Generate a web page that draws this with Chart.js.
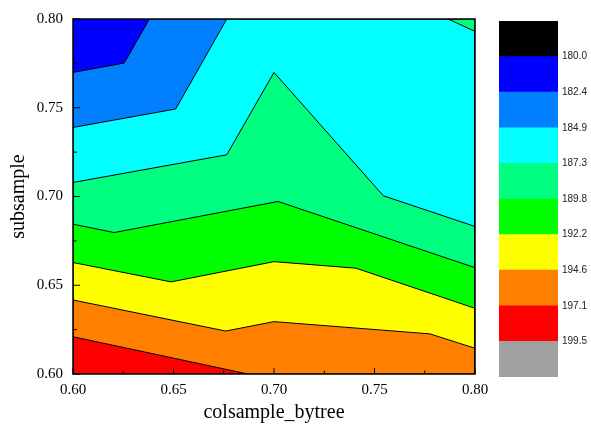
<!DOCTYPE html>
<html>
<head>
<meta charset="utf-8">
<script src="https://cdn.jsdelivr.net/npm/chart.js@4.4.0/dist/chart.umd.min.js"></script>
<style>
  html, body { margin: 0; padding: 0; background: #fff; }
  #wrap { position: relative; width: 591px; height: 430px; }
  #contorno { position: absolute; left: 0; top: 0; }
  #barra { position: absolute; left: 490px; top: 0; }
</style>
</head>
<body>
<div id="wrap">
  <canvas id="contorno" width="591" height="430"></canvas>
  <canvas id="barra" width="101" height="430"></canvas>
</div>
<script>
// limites dos eixos
const xMin = 0.60, xMax = 0.80, yMin = 0.60, yMax = 0.80;
const ticksX = [0.60, 0.65, 0.70, 0.75, 0.80];
const ticksMenoresX = [0.625, 0.675, 0.725, 0.775];
const ticksY = [0.60, 0.65, 0.70, 0.75, 0.80];
const ticksMenoresY = [0.625, 0.675, 0.725, 0.775];

// niveis da barra de cores (de cima para baixo)
const niveis = ['180.0', '182.4', '184.9', '187.3', '189.8', '192.2', '194.6', '197.1', '199.5'];

// linhas de contorno: [colsample_bytree, subsample]
const linha1824 = [[0.600, 0.7699], [0.6255, 0.7752], [0.638, 0.800]];
const linha1849 = [[0.600, 0.7389], [0.6511, 0.7493], [0.6765, 0.800]];
const linha1873 = [[0.600, 0.7079], [0.6765, 0.7235], [0.700, 0.7699], [0.7544, 0.7004], [0.800, 0.6831]];
const canto1873 = [[0.7867, 0.800], [0.800, 0.793]];
const linha1898 = [[0.600, 0.6844], [0.6205, 0.6797], [0.702, 0.6972], [0.800, 0.6599]];
const linha1922 = [[0.600, 0.6628], [0.6488, 0.6519], [0.700, 0.6633], [0.7408, 0.6596], [0.800, 0.6370]];
const linha1946 = [[0.600, 0.6417], [0.676, 0.6242], [0.700, 0.6295], [0.7776, 0.6226], [0.800, 0.6145]];
const linha1971 = [[0.600, 0.6210], [0.687, 0.600]];

// cores das faixas, de cima (menor valor) para baixo
const cores = ['#000000', '#0000ff', '#0080ff', '#00ffff', '#00ff80', '#00ff00', '#ffff00', '#ff8000', '#ff0000', '#a0a0a0'];

function fechar(pontos) {
    const p = pontos.map(([x, y]) => ({ x: x, y: y }));
    p.push({ x: pontos[0][0], y: pontos[0][1] });
    return p;
}

// regioes pintadas em ordem (cada uma cobre a anterior)
const regioes = [
    { pontos: [[xMin, yMin], [xMax, yMin], [xMax, yMax], [xMin, yMax]], cor: cores[1], borda: 0 },
    { pontos: [...linha1824, [xMax, yMax], [xMax, yMin], [xMin, yMin]], cor: cores[2], borda: 1 },
    { pontos: [...linha1849, [xMax, yMax], [xMax, yMin], [xMin, yMin]], cor: cores[3], borda: 1 },
    { pontos: [...linha1873, [xMax, yMin], [xMin, yMin]], cor: cores[4], borda: 1 },
    { pontos: [...canto1873, [xMax, yMax]], cor: cores[4], borda: 1 },
    { pontos: [...linha1898, [xMax, yMin], [xMin, yMin]], cor: cores[5], borda: 1 },
    { pontos: [...linha1922, [xMax, yMin], [xMin, yMin]], cor: cores[6], borda: 1 },
    { pontos: [...linha1946, [xMax, yMin], [xMin, yMin]], cor: cores[7], borda: 1 },
    { pontos: [...linha1971, [xMin, yMin]], cor: cores[8], borda: 1 }
];

const moldura = {
    id: 'moldura',
    afterDatasetsDraw(chart) {
        const { ctx, chartArea: a, scales } = chart;
        ctx.save();
        ctx.strokeStyle = '#000';
        ctx.lineWidth = 1;
        ctx.beginPath();
        ticksX.forEach(v => { const px = scales.x.getPixelForValue(v); ctx.moveTo(px, a.bottom); ctx.lineTo(px, a.bottom - 6); });
        ticksMenoresX.forEach(v => { const px = scales.x.getPixelForValue(v); ctx.moveTo(px, a.bottom); ctx.lineTo(px, a.bottom - 3.5); });
        ticksY.forEach(v => { const py = scales.y.getPixelForValue(v); ctx.moveTo(a.left, py); ctx.lineTo(a.left + 7, py); });
        ticksMenoresY.forEach(v => { const py = scales.y.getPixelForValue(v); ctx.moveTo(a.left, py); ctx.lineTo(a.left + 4, py); });
        ctx.stroke();
        ctx.lineWidth = 1.5;
        ctx.strokeRect(a.left, a.top, a.right - a.left, a.bottom - a.top);
        ctx.restore();
    }
};

const fonteSerif = 'Liberation Serif, Times New Roman, serif';
const semGrade = { display: false, drawTicks: false, tickLength: 0 };

new Chart(document.getElementById('contorno'), {
    type: 'line',
    data: {
        datasets: regioes.map((r, i) => ({
            data: fechar(r.pontos),
            backgroundColor: r.cor,
            borderColor: '#000',
            borderWidth: r.borda,
            fill: 'shape',
            pointRadius: 0,
            tension: 0,
            order: -i
        }))
    },
    options: {
        responsive: false,
        animation: false,
        events: [],
        layout: { padding: { top: 19, right: 116, left: 0, bottom: 0 } },
        plugins: { legend: { display: false }, tooltip: { enabled: false } },
        scales: {
            x: {
                type: 'linear', min: xMin, max: xMax,
                ticks: {
                    stepSize: 0.05, autoSkip: false, maxRotation: 0, padding: 7,
                    callback: v => v.toFixed(2),
                    font: { family: fonteSerif, size: 15 }, color: '#000'
                },
                grid: semGrade,
                border: { display: false },
                title: {
                    display: true, text: 'colsample_bytree', color: '#000',
                    font: { family: fonteSerif, size: 20 },
                    padding: { top: 0, bottom: 5 }
                },
                afterFit: s => { s.height = 56; }
            },
            y: {
                type: 'linear', min: yMin, max: yMax,
                ticks: {
                    stepSize: 0.05, autoSkip: false, padding: 10,
                    callback: v => v.toFixed(2),
                    font: { family: fonteSerif, size: 15 }, color: '#000'
                },
                grid: semGrade,
                border: { display: false },
                title: {
                    display: true, text: 'subsample', color: '#000',
                    font: { family: fonteSerif, size: 20 },
                    padding: { top: 7, bottom: 0 }
                },
                afterFit: s => { s.width = 73; }
            }
        }
    },
    plugins: [moldura]
});

// barra de cores: faixas empilhadas de baixo para cima
const faixas = cores.slice().reverse();

new Chart(document.getElementById('barra'), {
    type: 'bar',
    data: {
        labels: [''],
        datasets: faixas.map(c => ({
            data: [1],
            backgroundColor: c,
            borderWidth: 0,
            barPercentage: 1,
            categoryPercentage: 1
        }))
    },
    options: {
        responsive: false,
        animation: false,
        events: [],
        layout: { padding: { left: 9, top: 21, bottom: 53, right: 0 } },
        plugins: { legend: { display: false }, tooltip: { enabled: false } },
        scales: {
            x: { display: false, stacked: true },
            y: {
                stacked: true, position: 'right', min: 0, max: 10,
                ticks: {
                    stepSize: 1, padding: 4,
                    callback: v => (v >= 1 && v <= 9) ? niveis[9 - v] : '',
                    font: { family: 'Liberation Sans, Arial, sans-serif', size: 10 }, color: '#222'
                },
                grid: semGrade,
                border: { display: false },
                afterFit: s => { s.width = 33; }
            }
        }
    }
});
</script>
</body>
</html>
